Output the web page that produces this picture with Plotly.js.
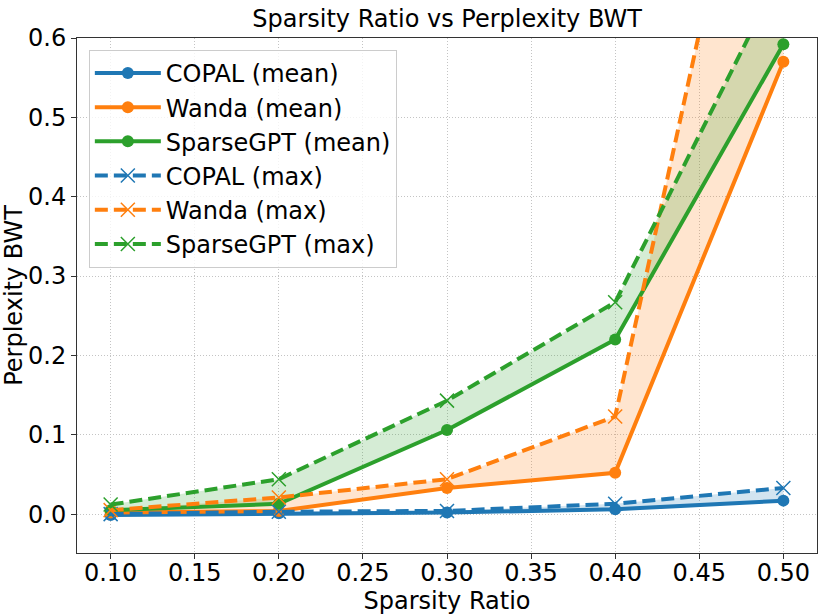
<!DOCTYPE html>
<html><head><meta charset="utf-8">
<script src="https://cdn.plot.ly/plotly-3.0.1.min.js"></script>
<style>html,body{margin:0;padding:0;background:#fff}#chart{width:831px;height:615px}</style>
</head><body><div id="chart"></div>
<script>
const sparsity = [0.10, 0.20, 0.30, 0.40, 0.50];
const copalMean = [-0.001, 0.001, 0.002, 0.006, 0.017];
const wandaMean = [0.002, 0.004, 0.033, 0.052, 0.570];
const sparseMean = [0.005, 0.013, 0.106, 0.220, 0.592];
const copalMax = [0.000, 0.003, 0.004, 0.013, 0.033];
const wandaMax = [0.005, 0.021, 0.044, 0.123, 1.090];
const sparseMax = [0.012, 0.044, 0.143, 0.267, 0.688];
const names = ['COPAL', 'Wanda', 'SparseGPT'];
const colors = ['#1f77b4', '#ff7f0e', '#2ca02c'];
const fills = ['rgba(31,119,180,0.2)', 'rgba(255,127,14,0.2)', 'rgba(44,160,44,0.2)'];
const means = [copalMean, wandaMean, sparseMean];
const maxes = [copalMax, wandaMax, sparseMax];

const traces = [];
for (let i = 0; i < 3; i++) {
  traces.push({x: sparsity, y: means[i], mode: 'lines', line: {width: 0, color: fills[i]}, showlegend: false, hoverinfo: 'skip'});
  traces.push({x: sparsity, y: maxes[i], mode: 'lines', line: {width: 0, color: fills[i]}, fill: 'tonexty', fillcolor: fills[i], showlegend: false, hoverinfo: 'skip'});
}
for (let i = 0; i < 3; i++) {
  traces.push({x: sparsity, y: means[i], name: names[i] + ' (mean)', mode: 'lines+markers',
    line: {color: colors[i], width: 4}, marker: {symbol: 'circle', size: 12, color: colors[i]}});
}
for (let i = 0; i < 3; i++) {
  traces.push({x: sparsity, y: maxes[i], name: names[i] + ' (max)', mode: 'lines+markers',
    line: {color: colors[i], width: 4, dash: '13px,6px'},
    marker: {symbol: 'x-thin', size: 14, color: colors[i], line: {color: colors[i], width: 1.5}}});
}

const axisCommon = {
  showline: true, linecolor: '#333', linewidth: 1, mirror: true,
  ticks: 'outside', ticklen: 5, tickcolor: '#333',
  showgrid: true, gridcolor: '#c4c4c4', griddash: '1px,2px', gridwidth: 1,
  zeroline: false, tickfont: {size: 24, color: '#000'}
};
const layout = {
  width: 831, height: 615,
  margin: {l: 77, r: 14, t: 38, b: 62},
  paper_bgcolor: '#fff', plot_bgcolor: '#fff',
  font: {family: 'DejaVu Sans', color: '#000'},
  title: {text: 'Sparsity Ratio vs Perplexity BWT', font: {size: 24}, x: 0.538, xanchor: 'center', y: 0.970, yanchor: 'middle'},
  xaxis: Object.assign({}, axisCommon, {range: [0.08, 0.52], tickvals: [0.10,0.15,0.20,0.25,0.30,0.35,0.40,0.45,0.50], tickformat: '.2f',
    ticklabelstandoff: -7,
    title: {text: 'Sparsity Ratio', font: {size: 24}, standoff: 0}}),
  yaxis: Object.assign({}, axisCommon, {range: [-0.049, 0.6], tickvals: [0,0.1,0.2,0.3,0.4,0.5,0.6], tickformat: '.1f',
    title: {text: 'Perplexity BWT', font: {size: 24}, standoff: 4}}),
  legend: {x: 0.016, y: 0.977, xanchor: 'left', yanchor: 'top', bgcolor: 'rgba(255,255,255,0.8)', bordercolor: '#ccc', borderwidth: 1,
    font: {size: 24}, traceorder: 'normal', tracegroupgap: 0, itemwidth: 66}
};
Plotly.newPlot('chart', traces, layout, {displayModeBar: false, staticPlot: true});
</script></body></html>
